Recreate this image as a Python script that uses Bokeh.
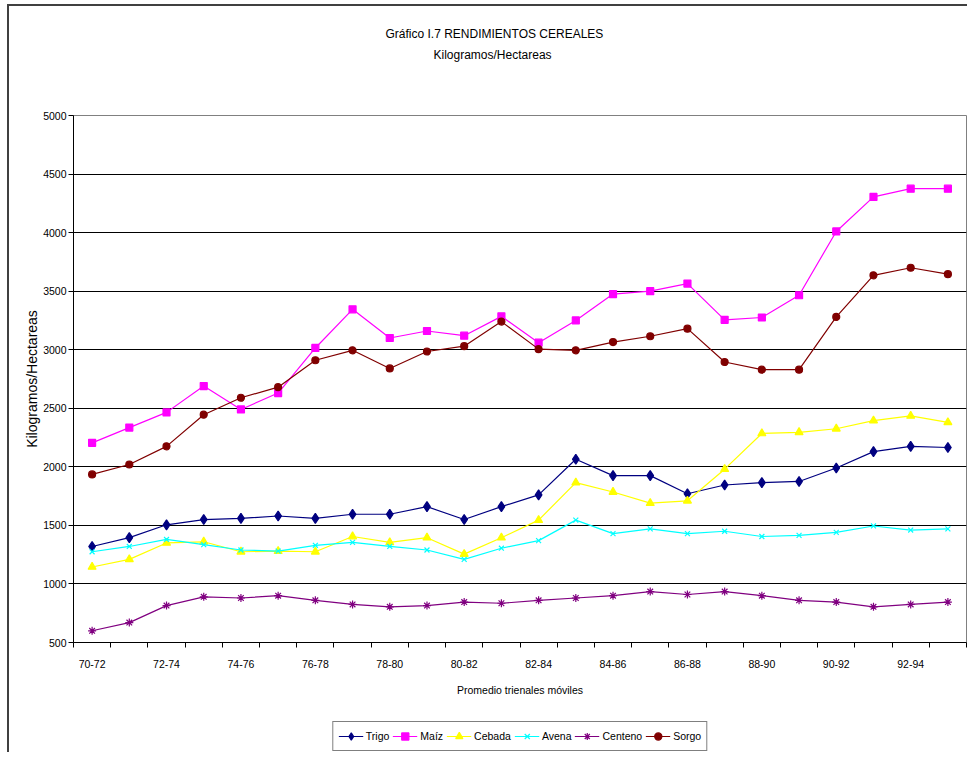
from bokeh.plotting import figure
from bokeh.models import FixedTicker, Legend, LegendItem, Range1d, Title
from bokeh.layouts import column
from bokeh.embed import file_html
from bokeh.resources import INLINE
import numpy as np

periods = ["70-72", "71-73", "72-74", "73-75", "74-76", "75-77", "76-78", "77-79",
           "78-80", "79-81", "80-82", "81-83", "82-84", "83-85", "84-86", "85-87",
           "86-88", "87-89", "88-90", "89-91", "90-92", "91-93", "92-94", "93-95"]

trigo = [1320, 1395, 1505, 1550, 1560, 1580, 1560, 1595, 1595, 1660, 1550, 1660,
         1760, 2065, 1925, 1925, 1770, 1845, 1865, 1875, 1990, 2130, 2175, 2165]
maiz = [2205, 2335, 2465, 2690, 2490, 2630, 3015, 3345, 3100, 3160, 3120, 3285,
        3060, 3250, 3475, 3500, 3565, 3255, 3275, 3465, 4010, 4305, 4375, 4375]
cebada = [1145, 1210, 1350, 1360, 1275, 1280, 1275, 1405, 1355, 1395, 1255, 1395,
          1545, 1865, 1785, 1690, 1710, 1980, 2285, 2295, 2325, 2395, 2435, 2380]
avena = [1275, 1320, 1380, 1335, 1290, 1280, 1330, 1355, 1320, 1290, 1210, 1305,
         1370, 1545, 1430, 1470, 1430, 1450, 1405, 1415, 1440, 1495, 1460, 1470]
centeno = [600, 670, 815, 890, 880, 900, 860, 825, 805, 815, 845, 835,
           860, 880, 900, 935, 910, 935, 900, 860, 845, 805, 825, 845]
sorgo = [1935, 2020, 2175, 2445, 2590, 2680, 2910, 2995, 2840, 2985, 3030, 3240,
         3005, 2995, 3065, 3115, 3180, 2895, 2830, 2830, 3280, 3635, 3700, 3645]

series_names = ["Trigo", "Maíz", "Cebada", "Avena", "Centeno", "Sorgo"]
series_values = [trigo, maiz, cebada, avena, centeno, sorgo]
y_ticks = [500, 1000, 1500, 2000, 2500, 3000, 3500, 4000, 4500, 5000]

title_main = "Gráfico I.7 RENDIMIENTOS CEREALES"
title_sub = "Kilogramos/Hectareas"
y_label = "Kilogramos/Hectareas"
x_label = "Promedio trienales móviles"

colors = ["#000080", "#FF00FF", "#FFFF00", "#00FFFF", "#800080", "#800000"]
markers = ["diamond", "square", "triangle", "x", "asterisk", "circle"]
sizes = [10, 7, 8, 7, 8, 7]

FONT = "Liberation Sans"
n = len(periods)
x = np.arange(n)

p = figure(width=958, height=700, output_backend="svg", toolbar_location=None,
           x_range=Range1d(-0.5, n - 0.5), y_range=Range1d(y_ticks[0], y_ticks[-1]),
           min_border_left=64, min_border_right=1, min_border_top=109,
           min_border_bottom=64, background_fill_color="white",
           border_fill_color="white", outline_line_color="#808080")

# y axis
p.yaxis.ticker = FixedTicker(ticks=y_ticks)
p.yaxis.major_tick_out = 5
p.yaxis.major_tick_in = 0
p.yaxis.minor_tick_line_color = None
p.yaxis.axis_line_color = "black"
p.yaxis.major_tick_line_color = "black"
p.yaxis.major_label_text_font = FONT
p.yaxis.major_label_text_font_size = "10.5px"
p.yaxis.major_label_text_color = "black"
p.yaxis.major_label_standoff = 2
p.yaxis.axis_label = y_label
p.yaxis.axis_label_text_font = FONT
p.yaxis.axis_label_text_font_size = "14px"
p.yaxis.axis_label_text_font_style = "normal"
p.yaxis.axis_label_text_color = "black"
p.yaxis.axis_label_standoff = 0

# x axis: labels at every other category centre, tick marks at category borders
p.xaxis.ticker = FixedTicker(ticks=list(x[::2]), minor_ticks=list(np.arange(n + 1) - 0.5))
p.xaxis.major_label_overrides = {int(i): periods[i] for i in x[::2]}
p.xaxis.major_tick_line_color = None
p.xaxis.major_tick_out = 5
p.xaxis.minor_tick_out = 5
p.xaxis.minor_tick_in = 0
p.xaxis.minor_tick_line_color = "black"
p.xaxis.axis_line_color = "black"
p.xaxis.major_label_text_font = FONT
p.xaxis.major_label_text_font_size = "10.5px"
p.xaxis.major_label_text_color = "black"
p.xaxis.major_label_standoff = 12
p.xaxis.axis_label = x_label
p.xaxis.axis_label_text_font = FONT
p.xaxis.axis_label_text_font_size = "10.5px"
p.xaxis.axis_label_text_font_style = "normal"
p.xaxis.axis_label_text_color = "black"
p.xaxis.axis_label_standoff = 13

p.xgrid.grid_line_color = None
p.ygrid.ticker = FixedTicker(ticks=y_ticks)
p.ygrid.grid_line_color = "black"
p.ygrid.grid_line_width = 1

for name, vals, col, mk, sz in zip(series_names, series_values, colors, markers, sizes):
    p.line(x, vals, line_color=col, line_width=1.2)
    p.scatter(x, vals, marker=mk, size=sz, fill_color=col, line_color=col, line_width=1.2)

# above: spacer, subtitle, main title
p.add_layout(Title(text=" ", text_font_size="12px", standoff=33), "above")
p.add_layout(Title(text=title_sub, align="left", offset=360, standoff=9,
                   text_font=FONT, text_font_size="12px", text_font_style="normal",
                   text_color="black"), "above")
p.add_layout(Title(text=title_main, align="left", offset=312, standoff=1,
                   text_font=FONT, text_font_size="12px", text_font_style="normal",
                   text_color="black"), "above")

# legend strip below the chart: same series, drawn outside its visible range,
# only so that the legend has glyphs to show
pl = figure(width=958, height=46, output_backend="svg", toolbar_location=None,
            x_axis_type=None, y_axis_type=None, x_range=Range1d(-0.5, n - 0.5),
            y_range=Range1d(0, 1),
            min_border_left=64, min_border_right=1, min_border_top=0, min_border_bottom=0,
            outline_line_color=None, background_fill_color="white", border_fill_color="white")
pl.xgrid.grid_line_color = None
pl.ygrid.grid_line_color = None
items = []
for name, vals, col, mk, sz in zip(series_names, series_values, colors, markers, sizes):
    ln = pl.line(x, vals, line_color=col, line_width=1.2)
    sc = pl.scatter(x, vals, marker=mk, size=sz, fill_color=col, line_color=col, line_width=1.2)
    items.append(LegendItem(label=name, renderers=[ln, sc]))
legend = Legend(items=items, orientation="horizontal", location="bottom_center",
                border_line_color="black", border_line_width=1,
                label_text_font=FONT, label_text_font_size="10.5px",
                label_text_color="black", glyph_width=25, glyph_height=18,
                label_height=18, label_standoff=3, spacing=3, padding=5, margin=1,
                background_fill_color="white", background_fill_alpha=1)
pl.add_layout(legend, "center")

lay = column(p, pl, spacing=0)
lay.styles = {"margin-left": "7px", "margin-top": "4px",
              "border-left": "2px solid #404040", "border-top": "2px solid #404040"}

open("out.html", "w").write(file_html(lay, INLINE))
